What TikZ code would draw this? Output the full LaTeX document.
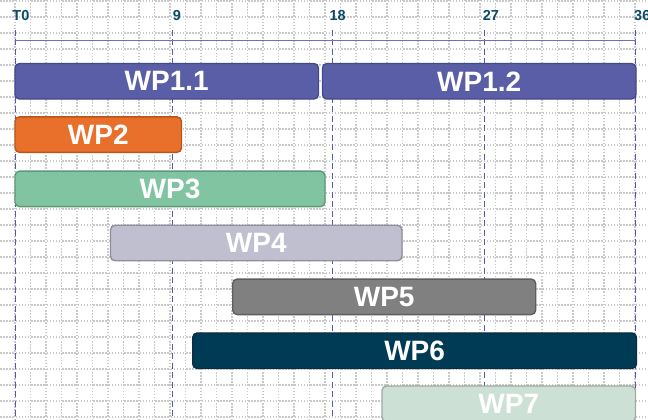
\documentclass[tikz,border=0pt]{standalone}
\usepackage{fontspec}
\setmainfont{Liberation Sans}
\definecolor{gridc}{HTML}{C9C9C9}
\definecolor{axisc}{HTML}{6E71BA}
\definecolor{tickc}{HTML}{5558B5}
\definecolor{labc}{HTML}{0C4A66}
\definecolor{wpAf}{HTML}{5A5EA6}\definecolor{wpAd}{HTML}{45498A}
\definecolor{wpBf}{HTML}{E8702A}\definecolor{wpBd}{HTML}{B8561D}
\definecolor{wpCf}{HTML}{80C4A2}\definecolor{wpCd}{HTML}{5E9878}
\definecolor{wpDf}{HTML}{C0BFCF}\definecolor{wpDd}{HTML}{8E8E9C}
\definecolor{wpEf}{HTML}{808080}\definecolor{wpEd}{HTML}{5E5E5E}
\definecolor{wpFf}{HTML}{003B56}\definecolor{wpFd}{HTML}{0A2E40}
\definecolor{wpGf}{HTML}{CDE0D6}\definecolor{wpGd}{HTML}{A0AAA4}
\tikzset{
  gridline/.style={gridc, line width=1.2pt, dash pattern=on 1.5pt off 1.6pt},
  tickline/.style={tickc, line width=0.9pt, dash pattern=on 6pt off 3.5pt},
  axisline/.style={axisc, line width=1.4pt},
  ticklab/.style={anchor=base west, inner sep=0pt, text=labc, font=\fontsize{14.5}{14.5}\selectfont\bfseries},
  wpbar/.style 2 args={draw=#2, fill=#1, line width=1.4pt, rounded corners=4.5pt,
    minimum height=35.5pt, inner sep=0pt, text=white,
    font=\fontsize{28}{28}\selectfont\bfseries},
}
\begin{document}
\begin{tikzpicture}[x=1pt,y=-1pt]
\useasboundingbox (0,0) rectangle (648,420);
\clip (0,0) rectangle (648,420);
\fill[white] (0,0) rectangle (648,420);
% grid
\foreach \k in {-1,...,41} \draw[gridline] ({15+15.5*\k},0) -- ({15+15.5*\k},420);
\foreach \k in {0,...,26} \draw[gridline] (0,{1+16*\k}) -- (648,{1+16*\k});
% ticks
\foreach \n/\x in {a/15,b/172.3,c/332.7,d/484,e/635.5} {
  \coordinate (top\n) at (\x,30);
  \coordinate (bot\n) at (\x,420);
  \draw[tickline] (top\n) -- (bot\n);
}
\coordinate (axL) at (15,40.5);
\coordinate (axR) at (635.5,40.5);
\draw[axisline] (axL) -- (axR);
\node[ticklab] (lT0) at (12.2,20.7) {T0};
\node[ticklab] (l9) at (172.6,20.7) {9};
\node[ticklab] (l18) at (329.3,20.7) {18};
\node[ticklab] (l27) at (482.7,20.7) {27};
\node[ticklab] (l36) at (634,20.7) {36};
% bars
\node[wpbar={wpAf}{wpAd}, minimum width=303.5pt] (wp11) at (166.75,81.25) {WP1.1};
\node[wpbar={wpAf}{wpAd}, minimum width=313.5pt] (wp12) at (479.25,81.25) {WP1.2};
\node[wpbar={wpBf}{wpBd}, minimum width=166.5pt] (wp2) at (98.25,134.6) {WP2};
\node[wpbar={wpCf}{wpCd}, minimum width=310pt] (wp3) at (170,188.9) {WP3};
\node[wpbar={wpDf}{wpDd}, minimum width=291.5pt] (wp4) at (256.25,243) {WP4};
\node[wpbar={wpEf}{wpEd}, minimum width=303pt] (wp5) at (384.2,296.8) {WP5};
\node[wpbar={wpFf}{wpFd}, minimum width=443.8pt] (wp6) at (414.6,350.7) {WP6};
\node[wpbar={wpGf}{wpGd}, minimum width=253.5pt] (wp7) at (508.75,403.75) {WP7};
\end{tikzpicture}
\end{document}
